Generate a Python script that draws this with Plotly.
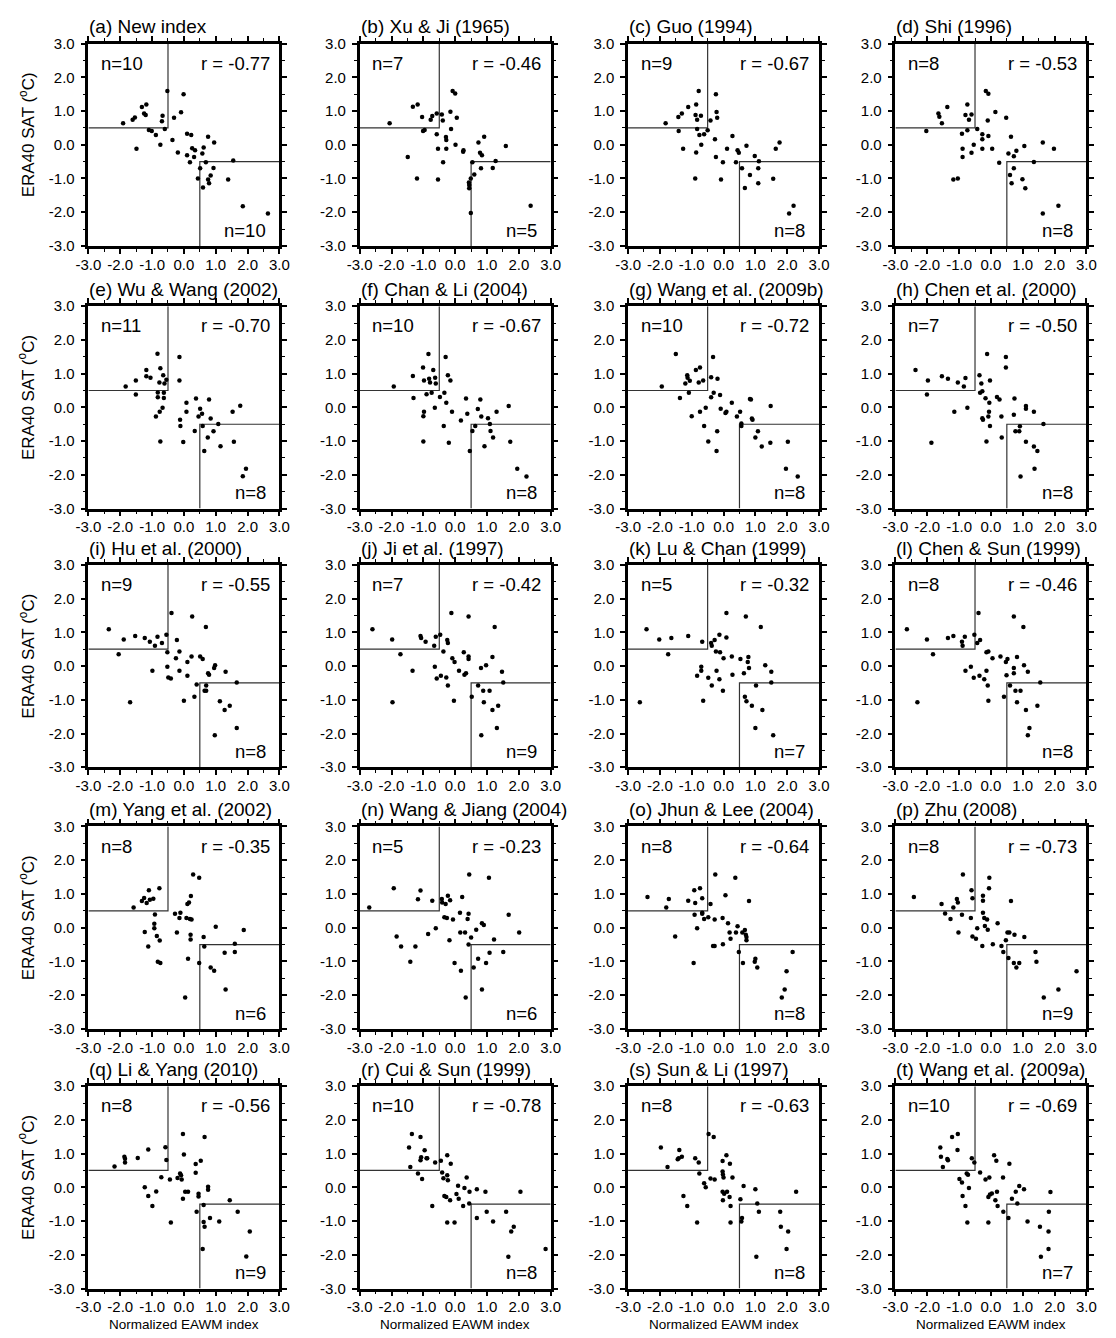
import plotly.graph_objects as go

# ---------------- data ----------------
a_x = [-1.91,-1.61,-1.54,-1.49,-1.32,-1.25,-1.18,-1.20,-1.10,-1.01,-0.88,-0.74,-0.69,-0.67,-0.60,-0.52,-0.36,-0.31,-0.19,-0.09,-0.01,0.10,0.10,0.19,0.23,0.26,0.32,0.35,0.44,0.51,0.58,0.60,0.62,0.69,0.76,0.76,0.79,0.84,0.93,0.95,1.39,1.55,1.85,2.64]
a_y = [0.64,0.74,0.81,-0.12,1.12,0.93,1.19,0.88,0.44,0.41,0.29,0.00,0.70,0.86,0.47,1.59,0.14,0.80,-0.23,0.96,1.50,0.33,-0.31,-0.52,0.29,-0.10,-0.36,-0.16,-1.00,-0.70,-0.26,-1.27,-0.08,-0.52,0.24,-1.03,-1.14,-0.91,-0.69,0.07,-1.03,-0.47,-1.82,-2.04]

b_x = [-2.06,-1.49,-1.33,-1.18,-1.20,-1.04,-1.01,-0.96,-0.77,-0.72,-0.58,-0.58,-0.54,-0.54,-0.42,-0.39,-0.38,-0.29,-0.28,-0.28,-0.15,-0.13,-0.08,0.00,0.01,0.05,0.25,0.26,0.43,0.44,0.44,0.49,0.49,0.54,0.60,0.73,0.78,0.84,0.81,0.91,1.18,1.27,1.59,2.37]
b_y = [0.64,-0.36,1.13,1.19,-1.00,0.82,0.41,0.44,0.74,0.85,0.93,0.31,-0.12,-1.03,0.90,0.72,-0.52,0.23,0.14,-0.12,0.98,0.47,1.59,1.52,0.00,0.80,-0.21,-0.16,-1.12,-1.19,-1.29,-1.00,-2.02,-0.52,-0.88,0.07,-0.24,-0.31,-0.70,0.24,-0.69,-0.48,-0.04,-1.81]

c_x = [-1.82,-1.42,-1.31,-1.41,-1.27,-1.11,-0.86,-0.88,-0.83,-0.83,-0.86,-0.89,-0.78,-0.76,-0.71,-0.70,-0.61,-0.50,-0.41,-0.27,-0.24,-0.24,-0.22,-0.20,-0.02,-0.08,0.11,0.28,0.39,0.44,0.48,0.58,0.67,0.72,0.83,0.98,1.09,1.11,1.09,1.56,1.64,1.76,2.06,2.20]
c_y = [0.64,0.82,0.93,0.41,-0.12,1.12,1.19,0.88,0.74,0.47,-0.23,-1.00,1.59,0.29,0.86,0.00,0.31,0.43,0.72,0.16,-0.36,1.50,0.97,0.80,-0.52,-1.03,-0.12,0.26,-0.52,-0.16,-0.24,-0.70,-1.28,-0.03,-0.90,-0.33,-0.70,-0.49,-1.14,-1.01,-0.12,0.07,-2.04,-1.81]

d_x = [-2.03,-1.65,-1.62,-1.54,-1.37,-1.18,-1.04,-0.91,-0.89,-0.89,-0.80,-0.74,-0.74,-0.69,-0.61,-0.61,-0.54,-0.43,-0.27,-0.27,-0.27,-0.16,-0.10,-0.08,-0.08,0.04,0.14,0.26,0.48,0.55,0.60,0.63,0.65,0.72,0.72,0.80,0.99,1.05,1.08,1.35,1.63,1.63,1.98,2.12]
d_y = [0.41,0.93,0.83,0.64,1.12,-1.03,-1.00,0.33,-0.12,-0.36,0.88,1.19,0.43,0.74,0.90,-0.24,0.00,0.47,0.31,0.16,-0.12,1.59,0.72,1.51,0.26,-0.12,0.97,-0.53,0.80,-0.26,-0.90,0.24,-1.14,-0.70,-0.34,-0.18,-1.02,-0.04,-1.29,-0.51,0.07,-2.04,-0.12,-1.81]

e_x = [-1.83,-1.51,-1.51,-1.18,-1.18,-1.05,-0.88,-0.83,-0.82,-0.82,-0.77,-0.76,-0.74,-0.74,-0.67,-0.65,-0.63,-0.63,-0.61,-0.55,-0.14,-0.14,-0.12,-0.11,-0.02,0.08,0.08,0.38,0.34,0.46,0.51,0.57,0.59,0.64,0.75,0.79,0.84,0.93,1.08,1.15,1.53,1.57,1.77,1.85,1.95]
e_y = [0.62,0.80,0.38,1.11,0.92,0.88,-0.27,1.59,0.44,0.30,0.74,-0.13,1.16,-1.01,-0.01,0.95,0.43,0.28,0.71,0.82,1.49,0.80,-0.37,-0.55,-1.03,0.14,-0.13,0.26,-0.70,-0.27,-0.04,-0.19,-0.55,-1.29,-0.89,0.23,-0.33,-0.71,-0.49,-1.15,-0.13,-1.02,0.05,-2.04,-1.82]

f_x = [-1.93,-1.33,-1.31,-1.01,-0.98,-1.00,-0.98,-1.00,-0.90,-0.84,-0.82,-0.79,-0.74,-0.69,-0.64,-0.63,-0.61,-0.48,-0.36,-0.34,-0.30,-0.28,-0.23,-0.20,-0.15,-0.10,0.18,0.34,0.38,0.46,0.54,0.63,0.71,0.79,0.82,0.92,1.03,1.09,1.11,1.19,1.30,1.68,1.73,1.95,2.24]
f_y = [0.62,0.93,0.28,1.18,0.80,-0.26,-0.13,-1.01,0.39,1.58,0.85,0.74,0.43,1.11,-0.01,0.88,0.71,0.31,-0.55,0.43,1.49,0.14,0.95,-1.05,0.80,-0.13,-0.39,0.26,-0.19,-1.29,-0.70,-0.55,-0.05,0.23,-0.27,-1.15,-0.32,-0.49,-0.70,-0.89,-0.13,0.04,-1.02,-1.82,-2.05]

g_x = [-1.94,-1.50,-1.37,-1.20,-1.14,-1.13,-1.09,-1.06,-1.00,-0.87,-0.78,-0.74,-0.74,-0.64,-0.61,-0.56,-0.48,-0.39,-0.39,-0.31,-0.33,-0.19,-0.20,-0.22,-0.11,-0.09,0.06,0.09,0.26,0.42,0.52,0.56,0.56,0.83,0.86,0.89,0.91,1.00,1.08,1.20,1.47,1.48,2.02,1.96,2.33]
g_y = [0.62,1.58,0.28,0.71,0.95,0.88,0.43,0.79,-0.26,1.11,0.74,1.18,-0.13,0.80,-0.55,-0.01,-1.01,0.89,0.30,0.43,1.49,0.85,-0.71,-1.29,0.37,-0.04,-0.17,-0.13,0.14,-0.27,-0.13,-0.48,-0.55,0.25,0.23,-0.33,-0.37,-0.89,-0.71,-1.16,-1.05,0.04,-1.02,-1.82,-2.05]

h_x = [-2.37,-1.98,-2.01,-1.87,-1.54,-1.35,-1.15,-1.04,-0.85,-0.80,-0.74,-0.36,-0.34,-0.30,-0.27,-0.27,-0.25,-0.17,-0.14,-0.12,-0.08,-0.06,-0.05,-0.03,-0.03,0.19,0.27,0.33,0.34,0.47,0.47,0.72,0.74,0.77,0.89,0.91,0.93,1.10,1.10,1.10,1.35,1.35,1.37,1.46,1.65]
h_y = [1.11,0.80,0.38,-1.05,0.92,0.85,-0.13,0.74,0.62,0.87,-0.01,0.95,0.43,0.71,0.48,-0.32,-0.37,0.27,-1.01,1.58,-0.27,-0.13,0.14,0.80,-0.55,0.31,0.23,-0.27,-0.89,1.49,1.18,-0.22,0.26,-0.71,-0.71,-0.56,-2.05,0.04,-0.04,-1.02,-0.13,-1.16,-1.82,-1.29,-0.49]

i_x = [-2.36,-2.05,-1.89,-1.69,-1.53,-1.23,-1.07,-0.99,-0.91,-0.83,-0.69,-0.55,-0.52,-0.52,-0.49,-0.41,-0.39,-0.25,-0.22,-0.14,-0.14,0.00,0.11,0.11,0.24,0.26,0.33,0.40,0.51,0.59,0.65,0.70,0.70,0.69,0.76,0.79,0.95,0.98,0.97,1.13,1.28,1.31,1.44,1.66,1.66]
i_y = [1.09,0.35,0.79,-1.07,0.89,0.83,0.72,-0.14,0.60,0.87,0.68,0.93,0.41,-0.02,-0.34,-0.37,1.57,0.23,0.77,0.43,-0.14,-1.03,0.12,-0.29,0.28,1.47,-0.91,-0.55,0.28,0.21,-0.73,-0.73,-0.58,1.16,-0.21,-0.26,-0.06,0.02,-2.05,-1.04,-1.30,-0.17,-1.18,-0.49,-1.84]

j_x = [-2.60,-1.98,-1.97,-1.72,-1.34,-1.09,-1.07,-0.93,-0.66,-0.64,-0.61,-0.58,-0.47,-0.45,-0.37,-0.28,-0.25,-0.23,-0.23,-0.12,-0.09,-0.04,-0.02,0.12,0.27,0.29,0.34,0.42,0.42,0.42,0.52,0.72,0.81,0.88,0.90,0.82,0.97,1.08,1.17,1.17,1.24,1.35,1.31,1.47,1.51]
j_y = [1.09,0.79,-1.07,0.35,-0.14,0.89,0.83,0.72,0.60,-0.02,0.87,-0.37,0.93,-0.29,0.43,-0.34,0.77,0.68,-0.58,1.57,0.23,-1.03,0.12,-0.14,0.41,-0.26,-0.21,0.28,0.21,1.47,-0.91,-0.58,-0.06,-0.73,-1.07,-2.05,0.02,-0.73,0.27,-1.30,1.16,-1.18,-1.84,-0.17,-0.49]

k_x = [-2.63,-2.42,-2.02,-1.74,-1.64,-1.11,-0.83,-0.70,-0.70,-0.67,-0.64,-0.48,-0.39,-0.37,-0.37,-0.28,-0.24,-0.22,-0.13,-0.13,-0.11,-0.02,0.00,0.09,0.09,0.26,0.28,0.53,0.64,0.67,0.70,0.72,0.76,0.78,0.80,0.89,1.02,1.00,1.17,1.22,1.31,1.50,1.50,1.56]
k_y = [-1.07,1.09,0.79,0.35,0.83,0.89,-0.29,-0.02,-0.14,0.72,-1.03,-0.35,0.68,0.60,-0.58,0.77,0.43,-0.14,0.93,-0.39,0.41,-0.73,0.23,1.57,0.85,0.28,-0.26,0.21,-0.21,-0.91,1.47,-1.04,0.12,0.27,-0.06,-1.18,-0.58,-1.84,1.16,-1.30,0.02,-0.17,-0.49,-2.05]

l_x = [-2.64,-2.31,-2.01,-1.82,-1.35,-1.18,-0.91,-0.89,-0.82,-0.80,-0.63,-0.54,-0.52,-0.43,-0.39,-0.36,-0.34,-0.21,-0.14,-0.14,-0.10,-0.08,-0.08,0.05,0.30,0.41,0.47,0.49,0.52,0.60,0.72,0.72,0.72,0.77,0.82,0.82,0.93,1.02,1.04,1.10,1.16,1.21,1.16,1.46,1.55]
l_y = [1.09,-1.07,0.79,0.35,0.83,0.89,0.72,0.60,0.87,-0.14,-0.02,-0.35,0.93,0.68,1.57,-0.29,0.77,-0.39,-0.14,0.41,-0.58,0.43,-1.03,0.23,0.28,-0.91,0.12,-0.27,0.21,-0.58,-0.06,-0.21,1.47,-0.73,0.27,-1.07,-0.73,1.16,0.02,-1.30,-0.17,-1.84,-2.05,-1.18,-0.49]

m_x = [-1.58,-1.32,-1.25,-1.23,-1.17,-1.12,-1.10,-1.07,-0.96,-0.93,-0.93,-0.91,-0.85,-0.82,-0.77,-0.76,-0.74,-0.28,-0.22,-0.14,-0.11,0.04,0.08,0.11,0.13,0.16,0.19,0.21,0.21,0.22,0.24,0.29,0.48,0.48,0.62,0.64,1.00,0.84,0.95,1.28,1.31,1.60,1.60,1.88]
m_y = [0.60,0.79,0.88,-0.13,0.73,-0.56,1.11,0.83,0.86,0.12,-0.02,0.39,-0.25,-1.01,1.17,-0.38,-1.05,0.41,-0.14,0.29,0.44,-2.07,0.29,0.70,-0.92,0.75,0.26,-0.21,-0.35,0.94,0.24,1.58,1.48,-1.05,-0.28,-0.56,0.03,-1.18,-1.28,-0.74,-1.83,-0.48,-0.72,-0.07]

n_x = [-2.70,-1.93,-1.84,-1.70,-1.41,-1.17,-1.09,-1.25,-0.85,-0.72,-0.61,-0.42,-0.41,-0.30,-0.34,-0.26,-0.23,-0.16,-0.18,-0.07,-0.02,0.15,0.16,0.18,0.22,0.31,0.33,0.39,0.42,0.42,0.44,0.50,0.58,0.66,0.72,0.84,0.90,0.84,0.97,1.08,1.06,1.22,1.51,1.68,2.01]
n_y = [0.60,1.17,-0.26,-0.56,-1.01,0.84,1.10,-0.56,-0.19,0.80,-0.02,0.85,0.75,0.70,0.31,0.29,0.95,0.81,-0.37,0.24,-1.05,0.44,-0.14,-1.28,0.91,-0.14,-2.07,0.26,0.41,-0.50,1.58,-0.29,-1.18,-0.06,-0.92,0.13,0.08,-1.83,-1.05,-0.74,1.48,-0.35,-0.72,0.38,-0.14]

o_x = [-2.39,-1.80,-1.72,-1.52,-1.11,-0.94,-0.92,-0.91,-0.89,-0.83,-0.74,-0.67,-0.67,-0.67,-0.61,-0.48,-0.41,-0.33,-0.28,-0.28,-0.26,-0.03,-0.02,0.06,0.14,0.19,0.22,0.37,0.39,0.44,0.48,0.59,0.61,0.67,0.70,0.72,0.72,0.80,0.98,1.00,1.06,1.83,1.92,1.98,2.17]
o_y = [0.91,0.60,0.85,-0.26,0.80,-1.05,1.11,0.38,0.73,-0.02,1.17,0.44,0.41,0.87,0.26,0.31,0.70,-0.54,-0.54,0.24,1.58,0.29,-0.49,0.96,0.13,-0.14,-0.33,1.48,-0.14,0.04,-0.72,-0.14,-1.05,-0.07,-0.21,-0.28,-0.37,0.79,-1.01,-0.92,-1.18,-2.07,-1.83,-1.29,-0.72]

p_x = [-2.42,-1.55,-1.44,-1.27,-1.18,-1.07,-1.04,-1.02,-0.91,-0.88,-0.63,-0.61,-0.58,-0.58,-0.47,-0.43,-0.27,-0.25,-0.25,-0.25,-0.21,-0.19,-0.12,-0.10,-0.06,-0.05,0.06,0.21,0.33,0.39,0.47,0.55,0.52,0.58,0.63,0.72,0.74,0.80,0.89,1.05,1.40,1.43,1.66,2.12,2.69]
p_y = [0.91,0.70,0.42,0.26,0.60,0.85,0.75,-0.14,0.38,1.58,0.29,1.11,0.87,-0.26,-0.33,-0.02,-0.54,0.95,0.80,0.44,0.29,0.05,0.24,-0.06,1.17,1.48,-0.49,0.13,-0.54,-0.72,-0.37,-0.90,-0.14,-0.14,0.79,-1.05,-0.21,-1.18,-1.05,-0.28,-0.72,-1.01,-2.07,-1.83,-1.29]

q_x = [-2.18,-1.87,-1.85,-1.85,-1.45,-1.23,-1.12,-1.12,-0.99,-0.87,-0.71,-0.58,-0.55,-0.44,-0.41,-0.20,-0.12,-0.09,-0.07,-0.03,-0.03,0.00,0.04,0.13,0.37,0.37,0.40,0.46,0.46,0.53,0.59,0.62,0.62,0.65,0.65,0.76,0.76,0.82,1.11,1.44,1.69,2.07,1.96]
q_y = [0.62,0.91,0.85,0.74,0.87,0.00,1.12,-0.26,-0.55,-0.12,0.30,1.19,0.81,0.23,-1.04,0.28,0.41,0.36,0.23,1.58,-0.34,0.97,-0.13,-0.13,0.69,0.43,-0.72,-0.19,-0.27,0.79,-1.83,-0.52,-1.03,-1.17,1.49,0.02,-0.07,-0.91,-1.01,-0.38,-0.72,-1.31,-2.05]

r_x = [-1.45,-1.41,-1.36,-1.17,-1.09,-1.09,-1.07,-1.04,-0.96,-0.90,-0.88,-0.72,-0.63,-0.45,-0.41,-0.37,-0.34,-0.28,-0.25,-0.25,-0.23,-0.25,-0.16,-0.14,-0.02,0.04,0.09,0.11,0.25,0.29,0.36,0.44,0.45,0.68,0.68,0.95,0.99,1.19,1.60,1.67,1.76,1.84,2.05,2.84]
r_y = [1.18,0.60,1.58,0.41,1.49,0.80,0.89,0.25,1.10,0.86,0.86,-0.55,0.74,0.79,0.44,0.27,-0.26,-0.29,0.95,0.36,0.21,-1.04,-0.38,0.70,-1.04,-0.20,0.05,-0.34,-0.55,-0.02,0.29,-0.48,-0.13,-0.06,-0.91,-0.13,-0.72,-1.01,-0.72,-2.06,-1.31,-1.17,-0.13,-1.83]

s_x = [-1.97,-1.76,-1.44,-1.41,-1.39,-1.31,-1.26,-1.14,-0.89,-0.83,-0.78,-0.76,-0.61,-0.56,-0.47,-0.41,-0.31,-0.28,-0.03,-0.03,-0.02,0.00,-0.03,-0.02,0.02,0.09,0.11,0.20,0.19,0.22,0.22,0.28,0.53,0.56,0.58,0.63,1.00,1.06,1.11,1.03,1.78,1.80,1.98,2.03,2.28]
s_y = [1.18,0.60,0.83,0.86,1.11,0.91,-0.26,-0.55,0.86,-1.04,0.74,0.41,0.12,0.00,1.58,0.26,1.49,0.23,0.78,0.47,0.38,0.29,-0.13,-0.38,-0.19,0.95,-0.13,0.70,-0.29,-0.55,-1.04,0.29,-0.35,-1.01,-0.91,0.04,-0.06,-0.48,-0.72,-2.06,-0.72,-1.17,-1.83,-1.31,-0.13]

t_x = [-1.59,-1.57,-1.51,-1.37,-1.35,-1.22,-1.04,-1.05,-0.99,-0.91,-0.89,-0.80,-0.76,-0.72,-0.74,-0.69,-0.60,-0.52,-0.34,-0.17,-0.08,-0.08,-0.05,-0.03,0.03,0.10,0.14,0.17,0.19,0.21,0.38,0.39,0.55,0.58,0.66,0.78,0.83,0.89,1.04,1.15,1.54,1.57,1.81,1.81,1.82,1.87]
t_y = [1.18,0.91,0.60,0.84,0.80,1.49,1.58,1.11,0.25,0.14,-0.26,-0.55,0.41,0.37,-1.04,-0.02,0.86,0.74,0.44,0.23,-0.29,-1.04,0.29,-0.21,-0.18,0.95,-0.38,0.79,-0.13,-0.55,0.29,-0.72,-0.91,0.70,-0.34,-0.13,-0.48,0.04,-0.06,-1.01,-1.17,-2.06,-1.31,-1.83,-0.72,-0.14]

titles = ["(a) New index", "(b) Xu & Ji (1965)", "(c) Guo (1994)", "(d) Shi (1996)",
          "(e) Wu & Wang (2002)", "(f) Chan & Li (2004)", "(g) Wang et al. (2009b)", "(h) Chen et al. (2000)",
          "(i) Hu et al. (2000)", "(j) Ji et al. (1997)", "(k) Lu & Chan (1999)", "(l) Chen & Sun (1999)",
          "(m) Yang et al. (2002)", "(n) Wang & Jiang (2004)", "(o) Jhun & Lee (2004)", "(p) Zhu (2008)",
          "(q) Li & Yang (2010)", "(r) Cui & Sun (1999)", "(s) Sun & Li (1997)", "(t) Wang et al. (2009a)"]
r_values = [-0.77, -0.46, -0.67, -0.53, -0.70, -0.67, -0.72, -0.50, -0.55, -0.42,
            -0.32, -0.46, -0.35, -0.23, -0.64, -0.73, -0.56, -0.78, -0.63, -0.69]
n_upper_left = [10, 7, 9, 8, 11, 10, 10, 7, 9, 7, 5, 8, 8, 5, 8, 8, 8, 10, 8, 10]
n_lower_right = [10, 5, 8, 8, 8, 8, 8, 8, 8, 9, 7, 8, 6, 6, 8, 9, 9, 8, 8, 7]

tick_vals = [-3.0, -2.0, -1.0, 0.0, 1.0, 2.0, 3.0]
tick_text = ["-3.0", "-2.0", "-1.0", "0.0", "1.0", "2.0", "3.0"]
axis_range = [-3.0, 3.0]
threshold = 0.5
x_title = "Normalized EAWM index"
y_title = "ERA40 SAT (<sup>o</sup>C)"

panels_x = [a_x, b_x, c_x, d_x, e_x, f_x, g_x, h_x, i_x, j_x,
            k_x, l_x, m_x, n_x, o_x, p_x, q_x, r_x, s_x, t_x]
panels_y = [a_y, b_y, c_y, d_y, e_y, f_y, g_y, h_y, i_y, j_y,
            k_y, l_y, m_y, n_y, o_y, p_y, q_y, r_y, s_y, t_y]

# ---------------- layout geometry ----------------
W, H = 1116, 1338
FONT = "Liberation Sans, Arial, Helvetica, sans-serif"
PW, PH = 195, 205
COL_LEFT = [77, 354, 628, 901]
ROW_TOP = [35, 301, 563, 828, 1091]

fig = go.Figure()
annotations = []
layout_axes = {}

for k in range(20):
    ci, ri = k % 4, k // 4
    left, top = COL_LEFT[ci], ROW_TOP[ri]
    xd = [left / W, (left + PW) / W]
    yd = [1 - (top + PH) / H, 1 - top / H]
    xa = "x" if k == 0 else f"x{k+1}"
    ya = "y" if k == 0 else f"y{k+1}"
    xkey = "xaxis" if k == 0 else f"xaxis{k+1}"
    ykey = "yaxis" if k == 0 else f"yaxis{k+1}"

    common = dict(range=axis_range, tickmode="array", tickvals=tick_vals, ticktext=tick_text,
                  ticks="outside", ticklen=5, tickwidth=1.5, tickcolor="black",
                  showline=True, linewidth=2.5, linecolor="black", mirror="ticks",
                  showgrid=False, zeroline=False, fixedrange=True,
                  tickfont=dict(family=FONT, size=15, color="black"),
                  minor=dict(dtick=0.5, tick0=0, ticks="outside", ticklen=3,
                             tickwidth=1.2, tickcolor="black", showgrid=False))
    layout_axes[xkey] = dict(common, domain=xd, anchor=ya, ticklabelstandoff=-2)
    layout_axes[ykey] = dict(common, domain=yd, anchor=xa, ticklabelstandoff=3)

    # quadrant boxes
    fig.add_trace(go.Scatter(x=[axis_range[0], -threshold, -threshold],
                             y=[threshold, threshold, axis_range[1]],
                             mode="lines", line=dict(color="#333333", width=1.2),
                             xaxis=xa, yaxis=ya, hoverinfo="skip", showlegend=False))
    fig.add_trace(go.Scatter(x=[axis_range[1], threshold, threshold],
                             y=[-threshold, -threshold, axis_range[0]],
                             mode="lines", line=dict(color="#333333", width=1.2),
                             xaxis=xa, yaxis=ya, hoverinfo="skip", showlegend=False))
    # points
    fig.add_trace(go.Scatter(x=panels_x[k], y=panels_y[k], mode="markers",
                             marker=dict(color="black", size=4.5, line=dict(width=0)),
                             xaxis=xa, yaxis=ya, showlegend=False))

    txt_font = dict(family=FONT, size=18.5, color="black")
    annotations.append(dict(text=titles[k], xref=f"{xa} domain", yref=f"{ya} domain",
                            x=-0.005, y=1 + 17 / PH, xanchor="left", yanchor="middle",
                            showarrow=False, font=dict(family=FONT, size=19, color="black")))
    annotations.append(dict(text=f"n={n_upper_left[k]}", xref=f"{xa} domain", yref=f"{ya} domain",
                            x=11 / PW, y=1 - 20 / PH, xanchor="left", yanchor="middle",
                            showarrow=False, font=txt_font))
    annotations.append(dict(text=f"r = {r_values[k]:.2f}", xref=f"{xa} domain", yref=f"{ya} domain",
                            x=1 - 8 / PW, y=1 - 20 / PH, xanchor="right", yanchor="middle",
                            showarrow=False, font=txt_font))
    annotations.append(dict(text=f"n={n_lower_right[k]}", xref=f"{xa} domain", yref=f"{ya} domain",
                            x=1 - 12 / PW, y=16 / PH, xanchor="right", yanchor="middle",
                            showarrow=False, font=txt_font))
    if ci == 0:
        annotations.append(dict(text=y_title, xref="paper", yref=f"{ya} domain",
                                x=14 / W, y=0.55, xanchor="center", yanchor="middle",
                                textangle=-90, showarrow=False,
                                font=dict(family=FONT, size=17, color="black")))
    if ri == 4:
        annotations.append(dict(text=x_title, xref=f"{xa} domain", yref="paper",
                                x=0.5, y=(H - 1332) / H, xanchor="center", yanchor="middle",
                                showarrow=False,
                                font=dict(family=FONT, size=13.5, color="black")))

fig.update_layout(width=W, height=H, autosize=False,
                  margin=dict(l=0, r=0, t=0, b=0),
                  paper_bgcolor="white", plot_bgcolor="white",
                  showlegend=False, annotations=annotations, **layout_axes)

fig.write_html("out.html")
